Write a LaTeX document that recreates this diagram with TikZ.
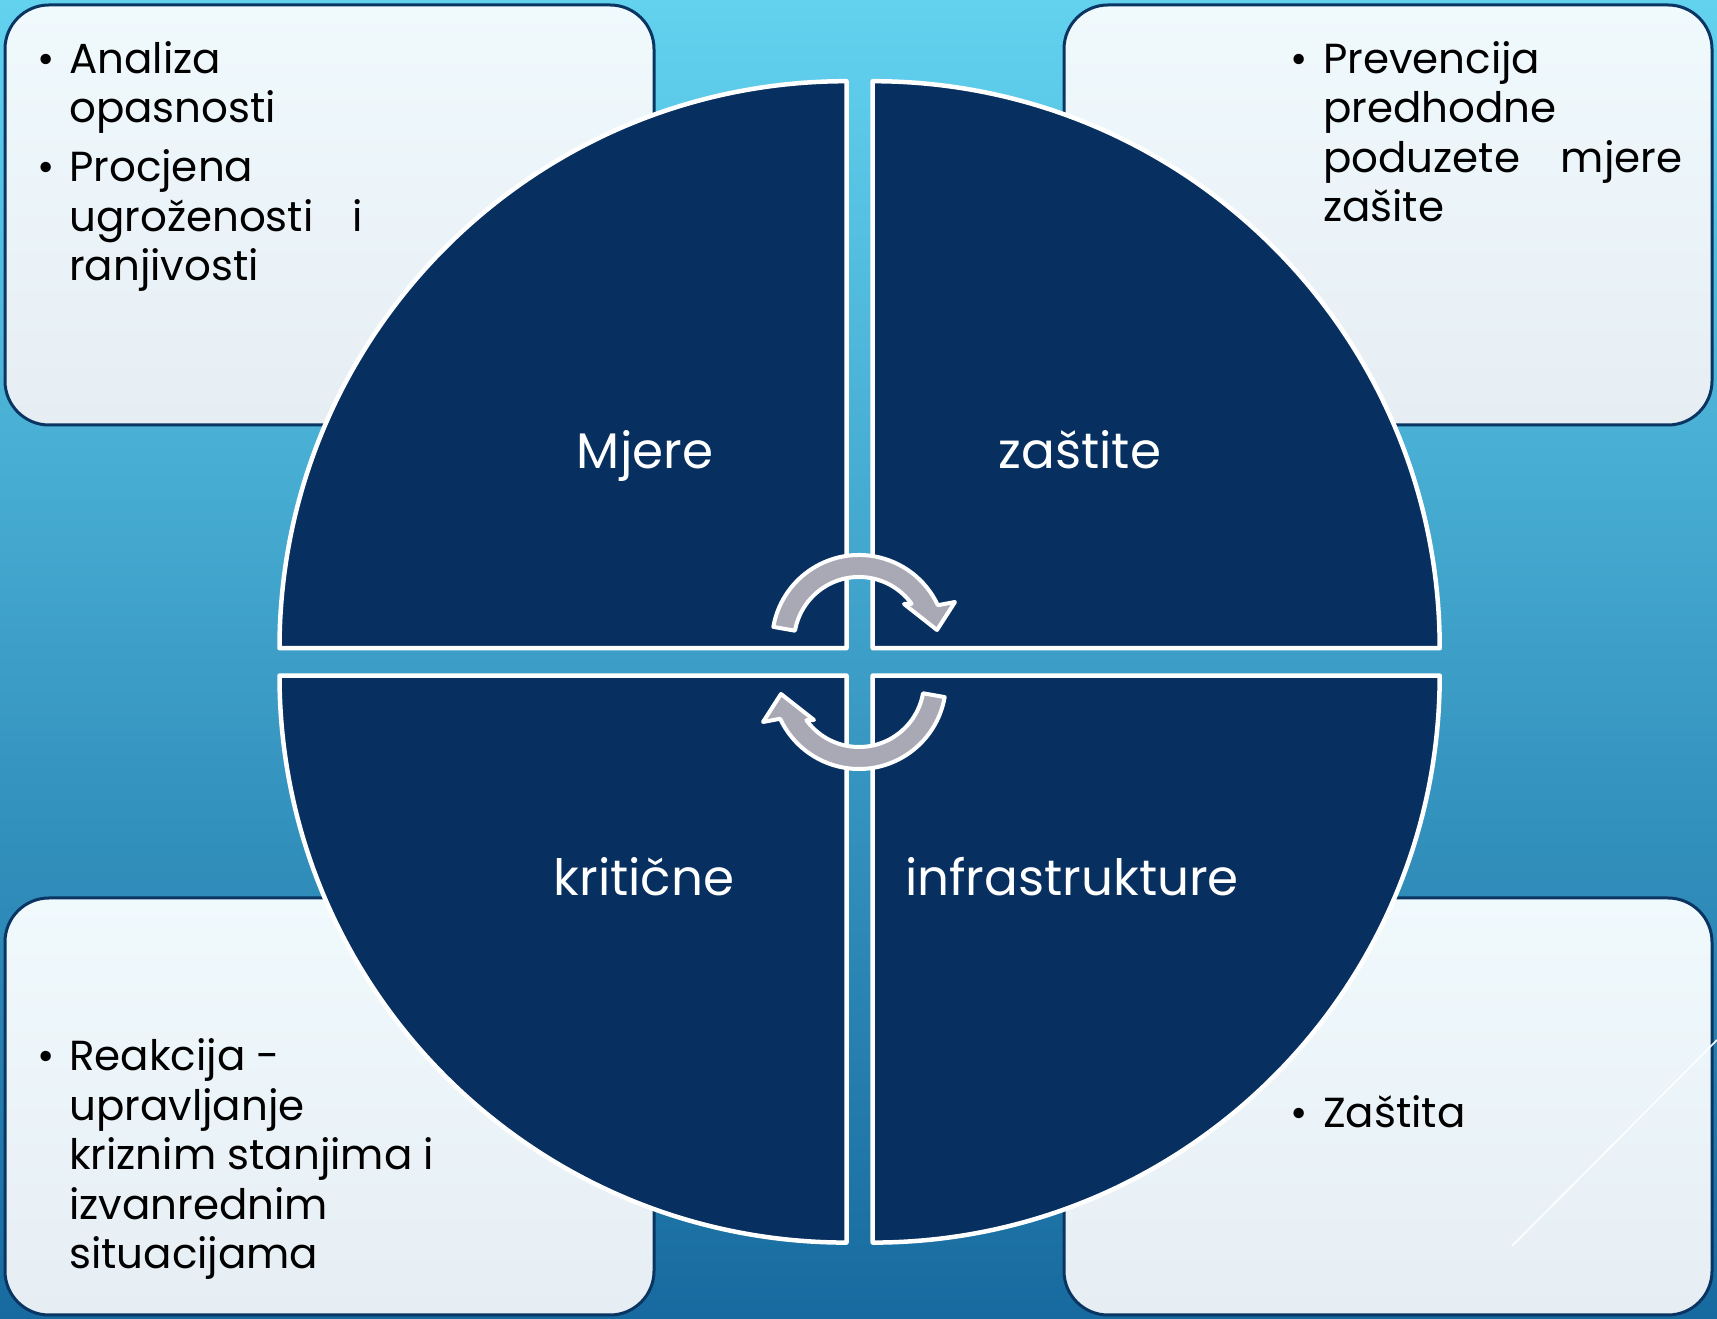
\documentclass[tikz,border=0pt]{standalone}
\usepackage{fontspec}
\setmainfont{Poppins}
\usepackage{tikz}
\usetikzlibrary{calc}
\definecolor{bgtop}{HTML}{62D2EF}
\definecolor{bgmid}{HTML}{42A6CF}
\definecolor{bgbot}{HTML}{176A9F}
\definecolor{quadblue}{HTML}{072F5F}
\definecolor{boxline}{HTML}{0A3563}
\definecolor{boxtop}{HTML}{F0F9FC}
\definecolor{boxbot}{HTML}{E6EEF4}
\definecolor{arrowgray}{HTML}{A8A9B4}
\newcommand\bultxt{\fontsize{42}{49.5}\selectfont}
\newcommand\lbltxt{\fontsize{50}{60}\selectfont}
\tikzset{quad/.style={fill=quadblue, draw=white, line width=4.5pt, line join=round}}
\tikzset{infobox/.style={draw=boxline, line width=3pt, rounded corners=44pt, top color=boxtop, bottom color=boxbot}}
\tikzset{cyc/.style={fill=arrowgray, draw=white, line width=4pt, line join=round}}
\tikzset{bul/.style={anchor=base west, align=left, inner sep=0pt, font=\bultxt, text=black}}
\tikzset{dot/.style={anchor=base, inner sep=0pt, font=\bultxt, text=black}}
\tikzset{lbl/.style={anchor=base, inner sep=0pt, font=\lbltxt, text=white}}

\begin{document}
\begin{tikzpicture}[x=1pt, y=1pt]
    \pgfmathsetmacro{\rad}{567}
    \pgfmathsetmacro{\lh}{49.5}
    \shade [top color=bgtop, middle color=bgmid, bottom color=bgbot] (0,0) rectangle (1717,1319);
    \useasboundingbox (0,0) rectangle (1717,1319);
    \draw [infobox] (5,894) rectangle (654,1314);
    \draw [infobox] (1064,894) rectangle (1712,1314);
    \draw [infobox] (5,4) rectangle (654,421);
    \draw [infobox] (1064,4) rectangle (1712,421);
    \draw [white, line width=1.5pt] (1512,73) -- (1717,279);
    \coordinate (TL) at (846.5,670.8);
    \coordinate (TR) at (872.7,670.8);
    \coordinate (BL) at (846.5,643.4);
    \coordinate (BR) at (872.7,643.4);
    \draw [quad] (TL) -- ++(-\rad,0) arc (180:90:\rad) -- cycle;
    \draw [quad] (TR) -- ++(0,\rad) arc (90:0:\rad) -- cycle;
    \draw [quad] (BL) -- ++(0,-\rad) arc (270:180:\rad) -- cycle;
    \draw [quad] (BR) -- ++(\rad,0) arc (0:-90:\rad) -- cycle;
    \draw [cyc, shift={(859,677)}] (170:65) -- (170:87) arc (170:25:87) -- (96,40) -- (78,12) -- (45,38) -- (36:65) arc (36:170:65) -- cycle;
    \draw [cyc, shift={(859,637)}, rotate=180] (170:65) -- (170:87) arc (170:25:87) -- (96,40) -- (78,12) -- (45,38) -- (36:65) arc (36:170:65) -- cycle;
    \node [lbl] (mjere) at (645,850) {Mjere};
    \node [lbl] (zastite) at (1080,850) {zaštite};
    \node [lbl] (kriticne) at (644,423) {kritične};
    \node [lbl] (infra) at (1072,423) {infrastrukture};
    \node [dot] (d1) at (46,1245.6) {•};
    \node [bul] (analiza) at (69,{1245.6-\lh}) {Analiza\\opasnosti};
    \node [dot] (d2) at (46,1137.2) {•};
    \node [bul] (procjena) at (69,{1137.2-2*\lh}) {Procjena\\\hbox to 294pt{ugroženosti\hfill i}\\ranjivosti};
    \node [dot] (d3) at (1299,1245.6) {•};
    \node [bul] (prevencija) at (1323,{1245.6-3*\lh}) {Prevencija\\predhodne\\\hbox to 359pt{poduzete\hfill mjere}\\zašite};
    \node [dot] (d4) at (46,248) {•};
    \node [bul] (reakcija) at (69,{248-4*\lh}) {Reakcija -\\upravljanje\\kriznim stanjima i\\izvanrednim\\situacijama};
    \node [dot] (d5) at (1299,191) {•};
    \node [bul] (zastita) at (1323,191) {Zaštita};
\end{tikzpicture}
\end{document}
